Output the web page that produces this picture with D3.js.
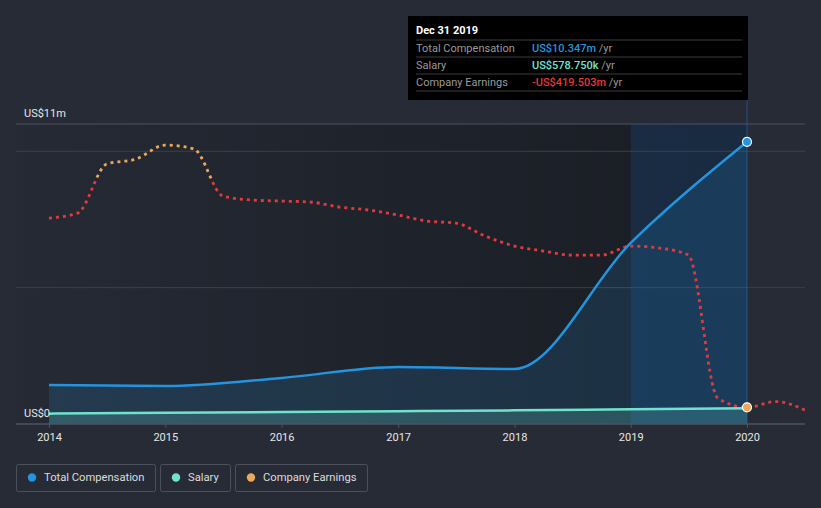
<!DOCTYPE html>
<html>
<head>
<meta charset="utf-8">
<script src="https://cdn.jsdelivr.net/npm/d3@7"></script>
<style>
  html, body { margin: 0; padding: 0; background: #262b36; }
  svg { display: block; font-family: Roboto, "Noto Sans", sans-serif; }
</style>
</head>
<body>
<svg id="chart" width="821" height="508"></svg>
<script>
// ---- data ----
const compYears = [2014, 2015, 2016, 2017, 2018, 2019, 2020];
const totalCompensation = [1.43, 1.39, 1.69, 2.09, 2.02, 6.64, 10.347]; // US$ m
const salary = [0.38, 0.41, 0.44, 0.47, 0.50, 0.54, 0.579]; // US$ m

const earningsDates = [
  "2014-01-01","2014-04-01","2014-07-01","2014-10-01",
  "2015-01-01","2015-04-01","2015-07-01","2015-10-01",
  "2016-01-01","2016-04-01","2016-07-01","2016-10-01",
  "2017-01-01","2017-04-01","2017-07-01","2017-10-01",
  "2018-01-01","2018-04-01","2018-07-01","2018-10-01",
  "2019-01-01","2019-04-01","2019-07-01","2019-10-01",
  "2020-01-01","2020-04-01","2020-07-01"
];
const companyEarnings = [
  -72.4, -63.3, 26.6, 35.7,
  61.4, 54.1, -32.1, -39.4,
  -41.3, -43.1, -52.3, -57.8,
  -66.9, -78.0, -81.6, -105.4,
  -123.8, -132.9, -140.3, -140.3,
  -123.8, -127.4, -140.3, -402.4,
  -419.503, -408.8, -424.4
]; // US$ m

const xTickYears = [2014, 2015, 2016, 2017, 2018, 2019, 2020];
const yTickLabels = [{v: 0, label: "US$0"}, {v: 11, label: "US$11m"}];
const gridValues = [5, 10];

const legendItems = [
  {label: "Total Compensation", color: "#2394df"},
  {label: "Salary", color: "#6fe3cf"},
  {label: "Company Earnings", color: "#e9a85a"}
];

const tooltip = {
  title: "Dec 31 2019",
  rows: [
    {label: "Total Compensation", value: "US$10.347m", color: "#2394df"},
    {label: "Salary", value: "US$578.750k", color: "#6fe3cf"},
    {label: "Company Earnings", value: "-US$419.503m", color: "#e5383b"}
  ]
};

// ---- layout ----
const svg = d3.select("#chart");
const pLeft = 16, pRight = 805, pTop = 124, pBottom = 424;
const x = d3.scaleTime()
  .domain([new Date(2014, 0, 1), new Date(2020, 0, 1)])
  .range([49, 747]);
const y = d3.scaleLinear().domain([0, 11]).range([pBottom, pTop]);
const yE = d3.scaleLinear().domain([-450, 100]).range([pBottom, pTop]);

const comp = compYears.map((yr, i) => ({d: new Date(yr, 0, 1), v: totalCompensation[i]}));
const sal = compYears.map((yr, i) => ({d: new Date(yr, 0, 1), v: salary[i]}));
const earn = earningsDates.map((s, i) => ({d: new Date(s + "T00:00:00"), v: companyEarnings[i]}));
const d2019 = new Date(2019, 0, 1), d2020 = new Date(2020, 0, 1);

const defs = svg.append("defs");
const bgGrad = defs.append("linearGradient").attr("id", "bgGrad")
  .attr("gradientUnits", "userSpaceOnUse")
  .attr("x1", pLeft).attr("x2", x(d2020)).attr("y1", 0).attr("y2", 0);
bgGrad.append("stop").attr("offset", "0%").attr("stop-color", "#14171c").attr("stop-opacity", 0.05);
bgGrad.append("stop").attr("offset", "100%").attr("stop-color", "#14171c").attr("stop-opacity", 0.75);

const zeroY = yE(0);
const earnGrad = defs.append("linearGradient").attr("id", "earnGrad")
  .attr("gradientUnits", "userSpaceOnUse")
  .attr("x1", 0).attr("x2", 0).attr("y1", pTop).attr("y2", pBottom);
const zf = (zeroY - pTop) / (pBottom - pTop);
earnGrad.append("stop").attr("offset", 0).attr("stop-color", "#e9a85a");
earnGrad.append("stop").attr("offset", zf).attr("stop-color", "#e9a85a");
earnGrad.append("stop").attr("offset", zf).attr("stop-color", "#e5383b");
earnGrad.append("stop").attr("offset", 1).attr("stop-color", "#e5383b");

// plot background darkening
svg.append("rect")
  .attr("x", pLeft).attr("y", pTop)
  .attr("width", x(d2020) - pLeft).attr("height", pBottom - pTop)
  .attr("fill", "url(#bgGrad)");

// highlight band 2019-2020
svg.append("rect")
  .attr("x", x(d2019)).attr("y", pTop)
  .attr("width", x(d2020) - x(d2019)).attr("height", pBottom - pTop)
  .attr("fill", "#1a5290").attr("opacity", 0.28);

// gridlines
svg.append("g").selectAll("line").data(gridValues).join("line")
  .attr("x1", pLeft).attr("x2", pRight)
  .attr("y1", d => y(d)).attr("y2", d => y(d))
  .attr("stroke", "#3a404c").attr("stroke-width", 1);
svg.append("line").attr("x1", pLeft).attr("x2", pRight)
  .attr("y1", y(11)).attr("y2", y(11))
  .attr("stroke", "#4d535f").attr("stroke-width", 1);

// areas
const curve = d3.curveMonotoneX;
svg.append("path").datum(comp)
  .attr("d", d3.area().x(d => x(d.d)).y0(pBottom).y1(d => y(d.v)).curve(curve))
  .attr("fill", "#2394df").attr("opacity", 0.16);
svg.append("path").datum(sal)
  .attr("d", d3.area().x(d => x(d.d)).y0(pBottom).y1(d => y(d.v)).curve(curve))
  .attr("fill", "#6fe3cf").attr("opacity", 0.2);

// hover line
svg.append("line")
  .attr("x1", x(d2020)).attr("x2", x(d2020))
  .attr("y1", 100).attr("y2", pBottom)
  .attr("stroke", "#2a6db0").attr("stroke-opacity", 0.6).attr("stroke-width", 1);

// earnings dotted line
svg.append("path").datum(earn)
  .attr("d", d3.line().x(d => x(d.d)).y(d => yE(d.v)).curve(curve))
  .attr("fill", "none").attr("stroke", "url(#earnGrad)")
  .attr("stroke-width", 2.8).attr("stroke-dasharray", "3 4");

// lines
svg.append("path").datum(sal)
  .attr("d", d3.line().x(d => x(d.d)).y(d => y(d.v)).curve(curve))
  .attr("fill", "none").attr("stroke", "#6fe3cf").attr("stroke-width", 2.5);
svg.append("path").datum(comp)
  .attr("d", d3.line().x(d => x(d.d)).y(d => y(d.v)).curve(curve))
  .attr("fill", "none").attr("stroke", "#2394df").attr("stroke-width", 2.5);

// x axis
svg.append("line").attr("x1", pLeft).attr("x2", pRight)
  .attr("y1", pBottom).attr("y2", pBottom)
  .attr("stroke", "#4d535f").attr("stroke-width", 1.5);
const xAxis = d3.axisBottom(x)
  .tickValues(xTickYears.map(yr => new Date(yr, 0, 1)))
  .tickFormat(d3.timeFormat("%Y"))
  .tickSize(4).tickSizeOuter(0);
const gx = svg.append("g").attr("transform", `translate(0,${pBottom})`).call(xAxis);
gx.select(".domain").remove();
gx.selectAll(".tick line").attr("stroke", "#4d535f");
gx.selectAll(".tick text").attr("fill", "#e6e6e6").attr("font-size", 11)
  .attr("font-family", "Roboto, sans-serif").attr("dy", "0.95em");

// y labels
svg.append("g").selectAll("text").data(yTickLabels).join("text")
  .attr("x", 24).attr("y", d => y(d.v) - 7)
  .attr("fill", "#e6e6e6").attr("font-size", 11).text(d => d.label);

// end markers
const lastComp = comp[comp.length - 1];
svg.append("circle").attr("cx", x(lastComp.d)).attr("cy", y(lastComp.v)).attr("r", 4.5)
  .attr("fill", "#2394df").attr("stroke", "#fff").attr("stroke-width", 1.2);
const lastEarn = earn.find(d => +d.d === +d2020);
svg.append("circle").attr("cx", x(lastEarn.d)).attr("cy", yE(lastEarn.v)).attr("r", 4.5)
  .attr("fill", "#e9a85a").attr("stroke", "#fff").attr("stroke-width", 1.2);

// tooltip
const tt = svg.append("g").attr("transform", "translate(408,16)");
tt.append("rect").attr("width", 340).attr("height", 84).attr("fill", "#000");
tt.append("text").attr("x", 8).attr("y", 18).attr("fill", "#fff")
  .attr("font-size", 11).attr("font-weight", "bold").text(tooltip.title);
[24, 41, 58, 75].forEach(yy => {
  tt.append("line").attr("x1", 8).attr("x2", 334).attr("y1", yy).attr("y2", yy)
    .attr("stroke", "#3d3d3d").attr("stroke-width", 1);
});
tooltip.rows.forEach((r, i) => {
  const yy = 36 + i * 17;
  tt.append("text").attr("x", 8).attr("y", yy).attr("fill", "#9a9a9a")
    .attr("font-size", 11).text(r.label);
  const t = tt.append("text").attr("x", 124).attr("y", yy).attr("font-size", 11);
  t.append("tspan").attr("fill", r.color).attr("font-weight", 500).text(r.value);
  t.append("tspan").attr("fill", "#9a9a9a").text(" /yr");
});

// legend
const lg = svg.append("g").attr("transform", "translate(16,464)");
let lx = 0;
legendItems.forEach(item => {
  const g = lg.append("g").attr("transform", `translate(${lx},0)`);
  const txt = g.append("text").attr("x", 28).attr("y", 17).attr("fill", "#dcdcdc")
    .attr("font-size", 11.2).text(item.label);
  const w = Math.round(txt.node().getComputedTextLength()) + 39;
  g.insert("rect", "text").attr("x", 0.5).attr("y", 0.5).attr("width", w).attr("height", 27)
    .attr("rx", 2).attr("fill", "none").attr("stroke", "#4a505c");
  g.append("circle").attr("cx", 16).attr("cy", 13.5).attr("r", 4.2).attr("fill", item.color);
  lx += w + 5;
});
</script>
</body>
</html>
